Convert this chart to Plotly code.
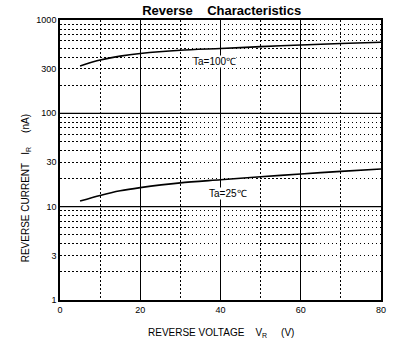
import math
import plotly.graph_objects as go

# Data
vr = [5, 10, 15, 20, 30, 40, 50, 60, 70, 80]
ir_100c = [322, 372, 410, 438, 475, 495, 518, 540, 560, 577]
ir_25c = [11.5, 13.2, 14.8, 16.0, 18.0, 19.4, 20.9, 22.4, 23.9, 25.3]

x_ticks = [0, 20, 40, 60, 80]
y_ticks = [1, 3, 10, 30, 100, 300, 1000]
y_tick_text = ["1", "3", "10", "30", "100", "300", "1000"]
y_decades = [10, 100]

font = "Liberation Sans, Arial, sans-serif"
dot = "1.5px,2.5px"

fig = go.Figure()
fig.add_trace(go.Scatter(x=vr, y=ir_100c, mode="lines",
                         line=dict(color="black", width=1.6, shape="spline", smoothing=0.8),
                         showlegend=False, hoverinfo="skip"))
fig.add_trace(go.Scatter(x=vr, y=ir_25c, mode="lines",
                         line=dict(color="black", width=1.6, shape="spline", smoothing=0.8),
                         showlegend=False, hoverinfo="skip"))

for d in y_decades:
    fig.add_shape(type="line", xref="paper", x0=0, x1=1, yref="y", y0=d, y1=d,
                  line=dict(color="black", width=1.2), layer="above")

# annotation y on a log axis is given in log10 units
fig.add_annotation(x=32.8, y=math.log10(355), text="Ta=100℃", showarrow=False, xanchor="left",
                   bgcolor="white", borderpad=0,
                   font=dict(family=font, size=10, color="black"))
fig.add_annotation(x=36.8, y=math.log10(14.0), text="Ta=25℃", showarrow=False, xanchor="left",
                   bgcolor="white", borderpad=0,
                   font=dict(family=font, size=10, color="black"))

fig.update_layout(
    width=403, height=343,
    margin=dict(l=60, r=22, t=20, b=43),
    paper_bgcolor="white", plot_bgcolor="white",
    title=dict(text="<b>Reverse    Characteristics</b>", x=0.55, xanchor="center",
               y=0.97, yanchor="middle",
               font=dict(family=font, size=13, color="black")),
    xaxis=dict(range=[0, 80], tickvals=x_ticks, showgrid=True,
               gridcolor="black", gridwidth=1.2, zeroline=False,
               showline=True, linecolor="black", linewidth=1.6, mirror=True,
               ticks="", tickfont=dict(family=font, size=9, color="black"),
               minor=dict(dtick=10, showgrid=True, gridcolor="black",
                          griddash=dot, gridwidth=1.3, ticks="")),
    yaxis=dict(type="log", range=[0, 3], tickvals=y_ticks, ticktext=y_tick_text,
               showgrid=False, zeroline=False,
               showline=True, linecolor="black", linewidth=1.6, mirror=True,
               ticks="", tickfont=dict(family=font, size=9, color="black"),
               minor=dict(dtick="D1", showgrid=True, gridcolor="black",
                          griddash=dot, gridwidth=1.3, ticks="")),
)

fig.add_annotation(xref="paper", yref="paper", x=-0.13, y=0.4,
                   text="REVERSE CURRENT   I<sub>R</sub>     (nA)", textangle=-90,
                   showarrow=False, font=dict(family=font, size=10, color="black"))
fig.add_annotation(xref="paper", yref="paper", x=0.5, y=-0.09,
                   text="REVERSE VOLTAGE    V<sub>R</sub>     (V)", yanchor="top",
                   showarrow=False, font=dict(family=font, size=10, color="black"))

fig.write_html("out.html")
